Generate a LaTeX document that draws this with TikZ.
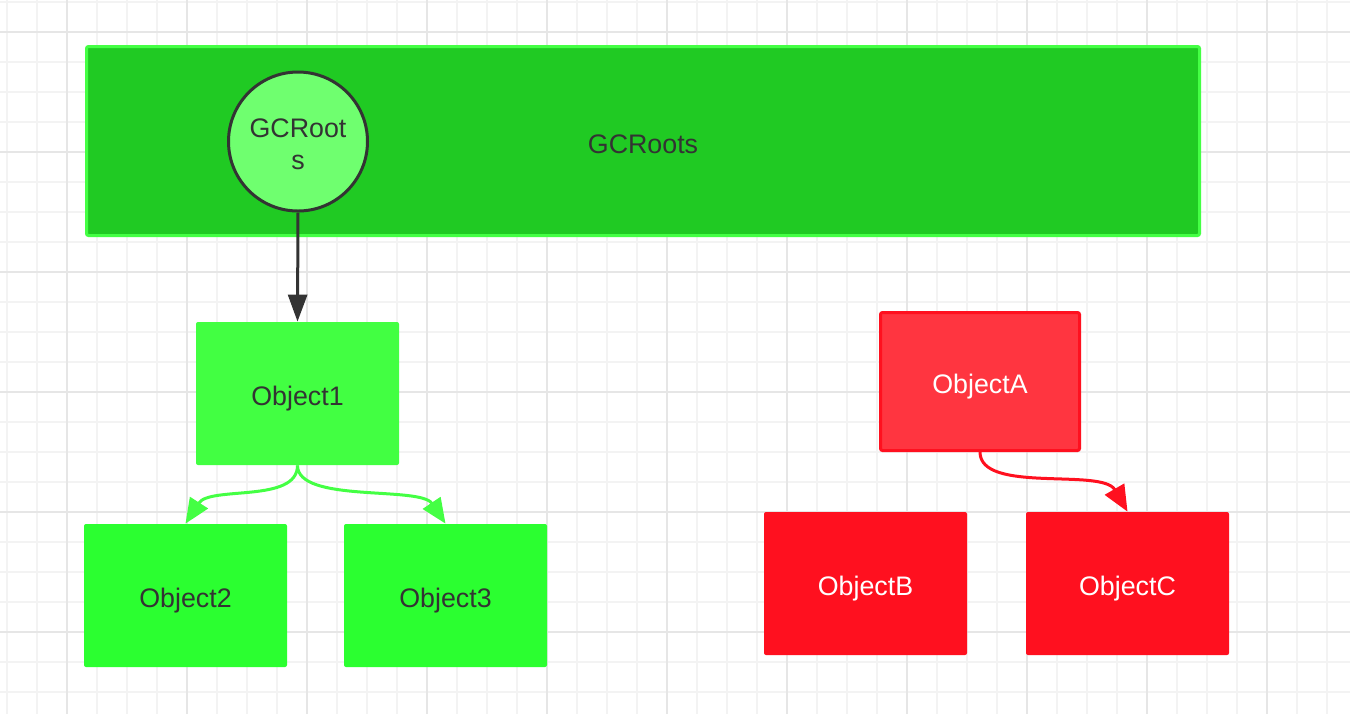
\documentclass[tikz,border=0pt]{standalone}
\usepackage{fontspec}
\setmainfont{Liberation Sans}
\usetikzlibrary{calc}
\usetikzlibrary{positioning}
\usetikzlibrary{arrows.meta}

\definecolor{gridminor}{HTML}{F3F3F3}
\definecolor{gridmajor}{HTML}{E6E6E6}
\definecolor{rootfill}{HTML}{20CA23}
\definecolor{rootedge}{HTML}{44FF44}
\definecolor{circfill}{HTML}{6FFF6F}
\definecolor{darkline}{HTML}{333333}
\definecolor{objlight}{HTML}{42FF42}
\definecolor{objgreen}{HTML}{2BFF30}
\definecolor{redfill}{HTML}{FF3540}
\definecolor{redline}{HTML}{FF101F}

\tikzset{
  objbox/.style={rectangle, inner sep=0pt, rounded corners=1pt,
    text height=12pt, text depth=0pt,
    minimum width=101.5pt, minimum height=71.5pt},
  greenobj/.style={objbox, fill=objgreen, text=darkline},
  redobj/.style={objbox, fill=redline, text=white},
  greenlink/.style={draw=rootedge, line width=1.5pt,
    -{Triangle[length=12.5pt,width=10.5pt]}},
  redlink/.style={draw=redline, line width=1.5pt,
    -{Triangle[length=13pt,width=11pt]}}
}

\begin{document}
\begin{tikzpicture}[x=0.5pt, y=-0.5pt, font=\fontsize{13.4}{16}\selectfont]
      \useasboundingbox (0,0) rectangle (1350,714);
      \fill[white] (0,0) rectangle (1350,714);

      \foreach \x in {7,37,...,1350}
        \draw[gridminor, line width=0.7pt] (\x,0) -- (\x,714);
      \foreach \y in {2,32,...,714}
        \draw[gridminor, line width=0.7pt] (0,\y) -- (1350,\y);
      \foreach \x in {67,187,...,1350}
        \draw[gridmajor, line width=0.9pt] (\x,0) -- (\x,714);
      \foreach \y in {32,152,...,714}
        \draw[gridmajor, line width=0.9pt] (0,\y) -- (1350,\y);

      \node[rectangle, draw=rootedge, fill=rootfill, line width=1.5pt,
        rounded corners=1pt, minimum width=556.5pt, minimum height=94.5pt,
        text height=12pt, text depth=0pt, text=darkline] (rootset) at (643,141) {GCRoots};
      \node[circle, draw=darkline, fill=circfill, line width=1.5pt,
        minimum size=69.5pt, inner sep=0pt, align=center, text=darkline] (root) at (298,141.5)
        {\raisebox{-1.25pt}[\height][\depth]{GCRoot}\\\raisebox{-1.25pt}[\height][\depth]{s}};

      \node[objbox, fill=objlight, text=darkline] (obj1) at (297.5,393.5) {Object1};
      \node[greenobj] (obj2) at (185.5,595.5) {Object2};
      \node[greenobj] (obj3) at (445.5,595.5) {Object3};

      \node[objbox, draw=redline, fill=redfill, line width=1.5pt, text=white,
        minimum width=99.5pt, minimum height=69pt] (objA) at (980,381.5) {ObjectA};
      \node[redobj] (objB) at (865.5,583.5) {ObjectB};
      \node[redobj] (objC) at (1127.5,583.5) {ObjectC};

      \draw[darkline, line width=1.5pt, -{Triangle[length=13.5pt,width=9.5pt]}]
        (root.south) -- (obj1.north);
      \draw[greenlink] (obj1.south) .. controls +(0,38) and +(24.5,-38) .. (obj2.north);
      \draw[greenlink] (obj1.south) .. controls +(0,38) and +(-25.5,-38) .. (obj3.north);
      \draw[redlink] (objA.south) .. controls +(0,42) and +(-25.5,-44) .. (objC.north);
    \end{tikzpicture}
\end{document}
